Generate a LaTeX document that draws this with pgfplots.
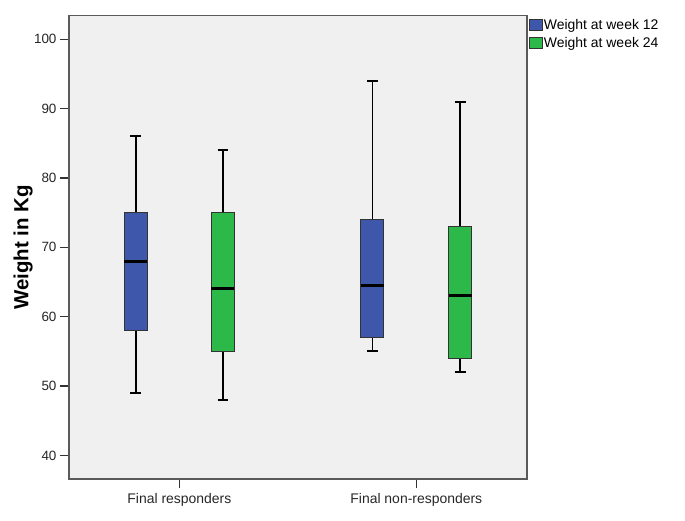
\documentclass[border=0pt]{standalone}
\usepackage{fontspec}
\setmainfont{Liberation Sans}
\usepackage{pgfplots}
\pgfplotsset{compat=1.18}
\definecolor{bblue}{HTML}{3E57AA}
\definecolor{bgreen}{HTML}{2DB84A}
\definecolor{bgc}{HTML}{F0F0F0}
\definecolor{frm}{HTML}{5A5A5A}
\begin{document}
\begin{tikzpicture}
\useasboundingbox (0,0) rectangle (685bp,521bp);
\begin{axis}[
  at={(69bp,42bp)}, anchor=south west,
  scale only axis, width=457.7bp, height=463.3bp,
  xmin=0.534, xmax=2.466, ymin=36.6, ymax=103.4,
  xtick={1,2}, xticklabels={Final responders, Final non-responders},
  ytick={40,50,...,100},
  /pgf/number format/assume math mode=true,
  axis background/.style={fill=bgc},
  axis line style={draw=frm, line width=1.6bp},
  tick align=outside, major tick length=9bp,
  tick style={draw=black!80, line width=1.3bp},
  xtick pos=bottom, ytick pos=left,
  ticklabel style={font=\fontsize{13.5}{15}\selectfont, text=black!85},
  xticklabel style={font=\fontsize{14}{15}\selectfont, yshift=-2bp},
  ylabel={Weight in Kg},
  every axis y label/.style={at={(axis description cs:-0.1000,0.5)}, rotate=90, anchor=center, font=\fontsize{20.5}{23}\selectfont\bfseries},
  legend style={at={(rel axis cs:1,1)}, anchor=north west, xshift=2bp, yshift=-2bp,
    draw=none, fill=none, inner sep=0pt, row sep=4bp,
    font=\fontsize{14}{15}\selectfont, nodes={inner sep=1.2bp}},
  legend cell align=left,
  legend image code/.code={\draw[#1] (0bp,-5.5bp) rectangle (13bp,5.5bp);},
  unbounded coords=jump,
]
\addlegendimage{fill=bblue, draw=black!80, line width=0.8bp}
\addlegendentry{Weight at week 12}
\addlegendimage{fill=bgreen, draw=black!80, line width=0.8bp}
\addlegendentry{Weight at week 24}

% ---- Final responders, week 12: lw=49 q1=58 med=68 q3=75 uw=86
\addplot[draw=black, line width=1.8bp, forget plot] coordinates {(0.816,49) (0.816,58) (0.816,nan) (0.816,75) (0.816,86)};
\addplot[draw=black, line width=1.8bp, forget plot] coordinates {(0.793,49) (0.839,49) (0.816,nan) (0.793,86) (0.839,86)};
\addplot[fill=bblue, draw=black!80, line width=1bp, forget plot] coordinates {(0.7675,58) (0.8645,58) (0.8645,75) (0.7675,75)} -- cycle;
\addplot[draw=black, line width=3bp, forget plot] coordinates {(0.7675,68) (0.8645,68)};

% ---- Final responders, week 24: lw=48 q1=55 med=64 q3=75 uw=84
\addplot[draw=black, line width=1.8bp, forget plot] coordinates {(1.184,48) (1.184,55) (1.184,nan) (1.184,75) (1.184,84)};
\addplot[draw=black, line width=1.8bp, forget plot] coordinates {(1.161,48) (1.207,48) (1.184,nan) (1.161,84) (1.207,84)};
\addplot[fill=bgreen, draw=black!80, line width=1bp, forget plot] coordinates {(1.1355,55) (1.2325,55) (1.2325,75) (1.1355,75)} -- cycle;
\addplot[draw=black, line width=3bp, forget plot] coordinates {(1.1355,64) (1.2325,64)};

% ---- Final non-responders, week 12: lw=55 q1=57 med=64.5 q3=74 uw=94
\addplot[draw=black, line width=1.8bp, forget plot] coordinates {(1.815,55) (1.815,57) (1.815,nan) (1.815,74) (1.815,94)};
\addplot[draw=black, line width=1.8bp, forget plot] coordinates {(1.792,55) (1.838,55) (1.815,nan) (1.792,94) (1.838,94)};
\addplot[fill=bblue, draw=black!80, line width=1bp, forget plot] coordinates {(1.7665,57) (1.8635,57) (1.8635,74) (1.7665,74)} -- cycle;
\addplot[draw=black, line width=3bp, forget plot] coordinates {(1.7665,64.5) (1.8635,64.5)};

% ---- Final non-responders, week 24: lw=52 q1=54 med=63 q3=73 uw=91
\addplot[draw=black, line width=1.8bp, forget plot] coordinates {(2.185,52) (2.185,54) (2.185,nan) (2.185,73) (2.185,91)};
\addplot[draw=black, line width=1.8bp, forget plot] coordinates {(2.162,52) (2.208,52) (2.185,nan) (2.162,91) (2.208,91)};
\addplot[fill=bgreen, draw=black!80, line width=1bp, forget plot] coordinates {(2.1365,54) (2.2335,54) (2.2335,73) (2.1365,73)} -- cycle;
\addplot[draw=black, line width=3bp, forget plot] coordinates {(2.1365,63) (2.2335,63)};
\end{axis}
\end{tikzpicture}
\end{document}
